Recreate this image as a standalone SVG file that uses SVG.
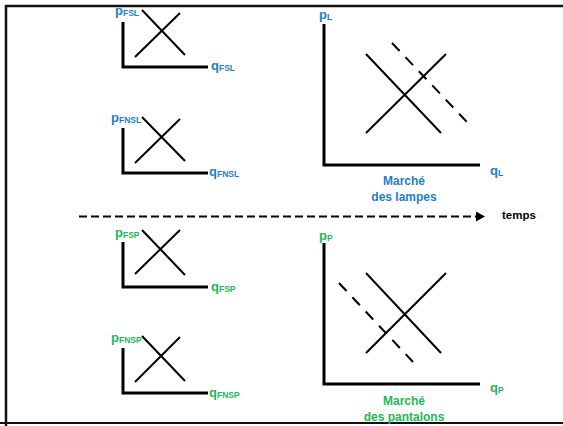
<svg xmlns="http://www.w3.org/2000/svg" width="563" height="426" viewBox="0 0 563 426">
<style>
.ax{fill:none;stroke:#000;stroke-width:3}
.ln{fill:none;stroke:#000;stroke-width:2}
.dl{fill:none;stroke:#000;stroke-width:2;stroke-dasharray:11 8.5}
.t{font-family:"Liberation Sans",Arial,sans-serif;font-weight:bold}
.b{fill:#1F7EC8}
.g{fill:#1DB954}
.lab{font-size:13px}
.sub{font-size:8.5px}
.nm{font-size:12px}
</style>
<defs>
<marker id="ah" markerWidth="10" markerHeight="10" refX="8" refY="5" orient="auto" markerUnits="userSpaceOnUse">
<path d="M0,0 L9,5 L0,10 Z" fill="#000"/>
</marker>
</defs>
<rect x="0" y="0" width="563" height="426" fill="#fff"/>
<path d="M6,426 V6 H563" fill="none" stroke="#111" stroke-width="2.5"/>
<path d="M0,423 H563" fill="none" stroke="#111" stroke-width="2"/>

<g id="fsl">
<path class="ax" d="M123,22 V67 H208"/>
<path class="ln" d="M142,10 L185,55 M135,57 L180,13"/>
<text class="t b lab" x="115" y="15">p<tspan class="sub" dy="1">FSL</tspan></text>
<text class="t b lab" x="211" y="70">q<tspan class="sub" dy="1">FSL</tspan></text>
</g>

<g id="fnsl">
<path class="ax" d="M123,128 V173 H208"/>
<path class="ln" d="M142,117 L185,161 M135,163 L180,119"/>
<text class="t b lab" x="111" y="122">p<tspan class="sub" dy="1">FNSL</tspan></text>
<text class="t b lab" x="209" y="176">q<tspan class="sub" dy="1">FNSL</tspan></text>
</g>

<g id="fsp">
<path class="ax" d="M123,242 V287 H208"/>
<path class="ln" d="M142,230 L185,275 M135,274 L180,230"/>
<text class="t g lab" x="115" y="237">p<tspan class="sub" dy="1">FSP</tspan></text>
<text class="t g lab" x="211" y="291">q<tspan class="sub" dy="1">FSP</tspan></text>
</g>

<g id="fnsp">
<path class="ax" d="M123,348 V393 H208"/>
<path class="ln" d="M142,336 L185,381 M135,382 L180,337"/>
<text class="t g lab" x="111" y="342">p<tspan class="sub" dy="1">FNSP</tspan></text>
<text class="t g lab" x="209" y="397">q<tspan class="sub" dy="1">FNSP</tspan></text>
</g>

<g id="lampes">
<path class="ax" d="M324,24 V165 H480"/>
<path class="ln" d="M366,54 L441,133 M366,133 L446,54"/>
<path class="dl" d="M392,43 L467,122"/>
<text class="t b lab" x="319" y="19">p<tspan class="sub" dy="1">L</tspan></text>
<text class="t b lab" x="490" y="175">q<tspan class="sub" dy="1">L</tspan></text>
<text class="t b nm" x="404" y="185" text-anchor="middle">Marché</text>
<text class="t b nm" x="404" y="201" text-anchor="middle">des lampes</text>
</g>

<g id="pantalons">
<path class="ax" d="M324,243 V384 H480"/>
<path class="ln" d="M366,273 L441,353 M366,353 L446,273"/>
<path class="dl" d="M339,283 L413,362"/>
<text class="t g lab" x="319" y="240">p<tspan class="sub" dy="1">P</tspan></text>
<text class="t g lab" x="490" y="392">q<tspan class="sub" dy="1">P</tspan></text>
<text class="t g nm" x="404" y="405" text-anchor="middle">Marché</text>
<text class="t g nm" x="404" y="421" text-anchor="middle">des pantalons</text>
</g>

<g id="connectors">
<path d="M79,216.5 H484" fill="none" stroke="#000" stroke-width="2" stroke-dasharray="8 4" marker-end="url(#ah)"/>
</g>
<text class="t" x="502" y="219" font-size="11.5" fill="#000">temps</text>
</svg>
